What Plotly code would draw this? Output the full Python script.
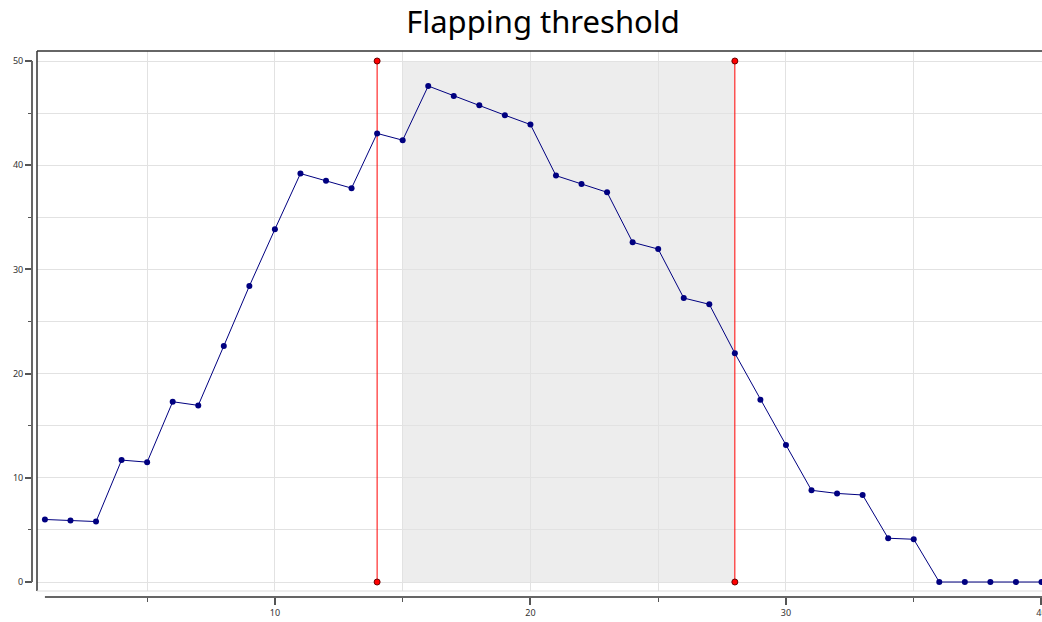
import plotly.graph_objects as go

# data
x_vals = list(range(1, 41))
y_vals = [6.0, 5.9, 5.8, 11.7, 11.5, 17.3, 16.95, 22.65, 28.4, 33.85,
          39.2, 38.5, 37.8, 43.05, 42.4, 47.6, 46.65, 45.75, 44.8, 43.9,
          39.0, 38.2, 37.4, 32.6, 31.95, 27.25, 26.65, 21.95, 17.5, 13.15,
          8.8, 8.5, 8.35, 4.2, 4.1, 0.0, 0.0, 0.0, 0.0, 0.0]

threshold_x = [14, 28]
threshold_y = [0, 50]
band_x = [15, 28]

W, H = 1042, 622
frame_left, frame_top, frame_bottom = 37, 51, 591
yaxis_px, xaxis_py = 32, 597

fig = go.Figure()

# red threshold markers
for tx in threshold_x:
    fig.add_trace(go.Scatter(
        x=[tx, tx], y=threshold_y, mode="lines+markers",
        line=dict(color="#ff0000", width=1),
        marker=dict(color="#ff0000", size=6, line=dict(color="#6b0000", width=1)),
        cliponaxis=False, showlegend=False, hoverinfo="skip",
    ))

fig.add_trace(go.Scatter(
    x=x_vals, y=y_vals, mode="lines+markers",
    line=dict(color="#000080", width=1),
    marker=dict(color="#000080", size=6),
    cliponaxis=False, showlegend=False,
))

shapes = [
    # shaded band
    dict(type="rect", xref="x", yref="y", x0=band_x[0], x1=band_x[1],
         y0=threshold_y[0], y1=threshold_y[1], layer="below",
         fillcolor="#ededed", line=dict(width=0)),
    # frame
    dict(type="line", xref="paper", yref="paper",
         x0=frame_left / W, x1=1, y0=1 - frame_top / H, y1=1 - frame_top / H,
         line=dict(color="#333333", width=1.5)),
    dict(type="line", xref="paper", yref="paper",
         x0=frame_left / W, x1=frame_left / W, y0=1 - frame_top / H, y1=1 - frame_bottom / H,
         line=dict(color="#333333", width=1.5)),
    dict(type="line", xref="paper", yref="paper",
         x0=frame_left / W, x1=1, y0=1 - frame_bottom / H, y1=1 - frame_bottom / H,
         line=dict(color="#dddddd", width=1)),
    # detached axis lines
    dict(type="line", xref="x", yref="paper", x0=x_vals[0], x1=x_vals[-1] + 1,
         y0=1 - xaxis_py / H, y1=1 - xaxis_py / H, line=dict(color="#666666", width=2)),
    dict(type="line", xref="paper", yref="y", x0=yaxis_px / W, x1=yaxis_px / W,
         y0=0, y1=50, line=dict(color="#666666", width=2)),
]

axis_common = dict(
    anchor="free", automargin=False, ticklabeloverflow="allow",
    tick0=0, dtick=10, ticks="outside", ticklen=7, tickwidth=2, tickcolor="#555555",
    showline=False, zeroline=False,
    showgrid=True, gridcolor="#e2e2e2", gridwidth=1,
    minor=dict(dtick=5, ticks="outside", ticklen=4, tickwidth=1, tickcolor="#555555",
               showgrid=True, gridcolor="#e2e2e2", gridwidth=1),
    tickfont=dict(family="Noto Sans", size=9, color="#333333"),
)

fig.update_layout(
    width=W, height=H,
    margin=dict(l=0, r=0, t=0, b=0),
    paper_bgcolor="white", plot_bgcolor="white",
    title=dict(text="Flapping threshold", x=543 / W, xanchor="center",
               y=1 - 22 / H, yanchor="middle",
               font=dict(family="Noto Sans", size=31, color="black")),
    shapes=shapes,
    xaxis=dict(domain=[frame_left / W, 1], range=[0.69, 40.02],
               position=1 - xaxis_py / H, **axis_common),
    yaxis=dict(domain=[1 - frame_bottom / H, 1 - frame_top / H], range=[-0.864, 50.96],
               position=yaxis_px / W, **axis_common),
)

# drop the default page margin so the figure sits at the window's corner
fig.write_html("out.html", config={"displayModeBar": False},
               post_script="document.body.style.margin='0';")
